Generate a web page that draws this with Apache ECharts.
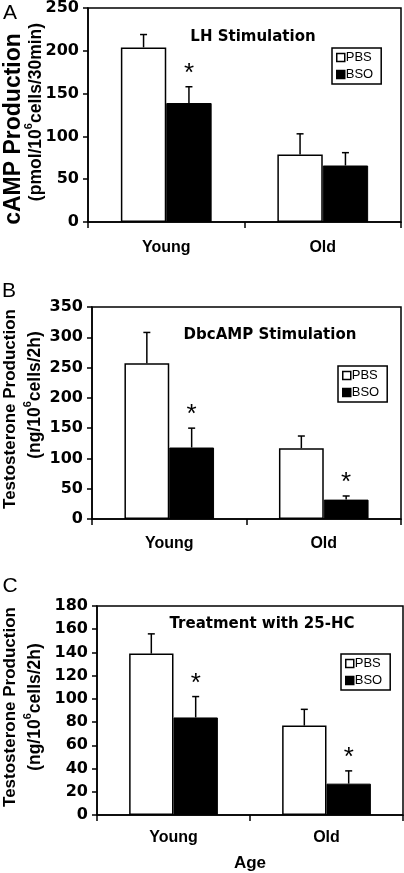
<!DOCTYPE html>
<html>
<head>
<meta charset="utf-8">
<script src="https://cdn.jsdelivr.net/npm/echarts@6/dist/echarts.min.js"></script>
<style>html,body{margin:0;padding:0;background:#fff}#c{width:404px;height:873px}</style>
</head>
<body>
<div id="c"></div>
<script>
// ---- data ----
const categories = ['Young', 'Old'];
const seriesNames = ['PBS', 'BSO'];
// Panel A: cAMP, LH stimulation
const aPBS = [204, 79];
const aPBSErr = [15, 24];
const aBSO = [139, 66];
const aBSOErr = [19, 15];
const aSig = [1, 0];
// Panel B: Testosterone, DbcAMP stimulation
const bPBS = [257, 117];
const bPBSErr = [51, 20];
const bBSO = [118, 32];
const bBSOErr = [32, 6];
const bSig = [1, 1];
// Panel C: Testosterone, 25-HC
const cPBS = [139, 77];
const cPBSErr = [17, 14];
const cBSO = [84, 27];
const cBSOErr = [18, 11];
const cSig = [1, 1];
// axes
const aAxis = {min: 0, max: 250, interval: 50};
const bAxis = {min: 0, max: 350, interval: 50};
const cAxis = {min: 0, max: 180, interval: 20};
const panelTitles = ['LH Stimulation', 'DbcAMP Stimulation', 'Treatment with 25-HC'];
const panelLetters = ['A', 'B', 'C'];
const xName = 'Age';

const BAR_FRAC = 0.29;
const chart = echarts.init(document.getElementById('c'), null, {renderer: 'canvas'});

const grids = [
  {left: 88, right: 3, top: 6, height: 216},
  {left: 92, right: 3, top: 307, height: 212},
  {left: 97, right: 1, top: 606, height: 210}
];
const axesCfg = [aAxis, bAxis, cAxis];
const labelMargins = [18, 17, 15];

function errRender(side) {
  return function (params, api) {
    const ci = api.value(0), v = api.value(1), e = api.value(2), sig = api.value(3);
    const base = api.coord([ci, v]);
    const top = api.coord([ci, v + e]);
    const catW = api.size([1, 0])[0];
    const bw = catW * BAR_FRAC;
    const x = base[0] + side * bw / 2;
    const children = [
      {type: 'line', shape: {x1: x, y1: base[1], x2: x, y2: top[1]}, style: {stroke: '#000', lineWidth: 1.5}},
      {type: 'line', shape: {x1: x - 3.5, y1: top[1], x2: x + 3.5, y2: top[1]}, style: {stroke: '#000', lineWidth: 1.5}}
    ];
    if (sig) {
      children.push({type: 'text', x: x, y: top[1] - 13,
        style: {text: '*', font: '26px "Liberation Sans"', fill: '#000', align: 'center', verticalAlign: 'middle', textAlign: 'center', textVerticalAlign: 'middle'}});
    }
    return {type: 'group', children: children};
  };
}

const panels = [
  [aPBS, aPBSErr, aBSO, aBSOErr, aSig],
  [bPBS, bPBSErr, bBSO, bBSOErr, bSig],
  [cPBS, cPBSErr, cBSO, cBSOErr, cSig]
];

const xAxes = [], yAxes = [], series = [];
panels.forEach((p, i) => {
  xAxes.push({
    type: 'category', gridIndex: i, data: categories,
    axisLine: {lineStyle: {color: '#000', width: 1.5}},
    axisTick: {show: true, length: 6, lineStyle: {color: '#000', width: 1.5}},
    axisLabel: {margin: labelMargins[i], color: '#000', fontFamily: 'Liberation Sans', fontWeight: 'bold', fontSize: 16},
    name: i === 2 ? xName : '', nameLocation: 'middle', nameGap: 40,
    nameTextStyle: {color: '#000', fontFamily: 'Liberation Sans', fontWeight: 'bold', fontSize: 17}
  });
  yAxes.push({
    type: 'value', gridIndex: i, min: axesCfg[i].min, max: axesCfg[i].max, interval: axesCfg[i].interval,
    axisLine: {show: true, lineStyle: {color: '#000', width: 1.5}},
    axisTick: {show: true, length: 5, lineStyle: {color: '#000', width: 1.5}},
    splitLine: {show: false},
    axisLabel: {margin: 9, color: '#000', fontFamily: 'DejaVu Sans', fontWeight: 'bold', fontSize: 16}
  });
  series.push({
    name: 'PBS', type: 'bar', xAxisIndex: i, yAxisIndex: i, data: p[0],
    barWidth: (BAR_FRAC * 100) + '%', barGap: '0%',
    itemStyle: {color: '#fff', borderColor: '#000', borderWidth: 1.5}
  });
  series.push({
    name: 'BSO', type: 'bar', xAxisIndex: i, yAxisIndex: i, data: p[2],
    barWidth: (BAR_FRAC * 100) + '%', barGap: '0%',
    itemStyle: {color: '#000', borderColor: '#000', borderWidth: 1}
  });
  series.push({
    name: 'errPBS' + i, type: 'custom', xAxisIndex: i, yAxisIndex: i, z: 5,
    renderItem: errRender(-1),
    encode: {x: 0, y: 1},
    data: categories.map((c, k) => [k, p[0][k], p[1][k], 0])
  });
  series.push({
    name: 'errBSO' + i, type: 'custom', xAxisIndex: i, yAxisIndex: i, z: 5,
    renderItem: errRender(1),
    encode: {x: 0, y: 1},
    data: categories.map((c, k) => [k, p[2][k], p[3][k], p[4][k]])
  });
});

const legendPos = [{left: 332, top: 48}, {left: 338, top: 366}, {left: 341, top: 654}];
const legends = legendPos.map(lp => ({
  left: lp.left, top: lp.top, orient: 'vertical', data: seriesNames, icon: 'rect',
  itemWidth: 8, itemHeight: 8, itemGap: 4, padding: [3, 8, 3, 4],
  borderColor: '#000', borderWidth: 1.5, selectedMode: false,
  itemStyle: {borderColor: '#000', borderWidth: 1.5},
  textStyle: {fontFamily: 'Liberation Sans', fontSize: 13, color: '#000', padding: [0, 0, 0, -4]}
}));

function txt(x, y, text, font, rotation, rich) {
  const style = {text: text, font: font, fill: '#000', align: 'center', verticalAlign: 'middle', textAlign: 'center', textVerticalAlign: 'middle'};
  if (rich) style.rich = rich;
  return {type: 'text', x: x, y: y, rotation: rotation || 0, style: style, z: 10};
}
const supRich = function (size) {
  return {
    b: {fontFamily: 'Liberation Sans', fontWeight: 'bold', fontSize: size, verticalAlign: 'bottom', lineHeight: size + 4},
    s: {fontFamily: 'Liberation Sans', fontWeight: 'bold', fontSize: Math.round(size * 0.62), verticalAlign: 'top', lineHeight: size + 4}
  };
};
const R = Math.PI / 2;
const graphics = [
  // panel letters
  txt(10, 13, panelLetters[0], '21px "Liberation Sans"'),
  txt(9, 291, panelLetters[1], '21px "Liberation Sans"'),
  txt(10, 586, panelLetters[2], '21px "Liberation Sans"'),
  // panel titles
  txt(253, 37, panelTitles[0], 'bold 15px "DejaVu Sans"'),
  txt(270, 335, panelTitles[1], 'bold 15px "DejaVu Sans"'),
  txt(262, 624, panelTitles[2], 'bold 15px "DejaVu Sans"'),
  // y axis titles
  txt(14, 129, 'cAMP Production', 'bold 23px "Liberation Sans"', R),
  txt(34, 112, '{b|(pmol/10}{s|6}{b|cells/30min)}', '', R, supRich(17.5)),
  txt(10, 409, 'Testosterone Production', 'bold 17px "Liberation Sans"', R),
  txt(33, 395, '{b|(ng/10}{s|6}{b|cells/2h)}', '', R, supRich(17.5)),
  txt(10, 707, 'Testosterone Production', 'bold 17px "Liberation Sans"', R),
  txt(33, 707, '{b|(ng/10}{s|6}{b|cells/2h)}', '', R, supRich(17.5))
];

chart.setOption({
  animation: false,
  backgroundColor: '#fff',
  grid: grids.map(g => Object.assign({show: true, borderColor: '#000', borderWidth: 1.5, backgroundColor: 'transparent'}, g)),
  xAxis: xAxes,
  yAxis: yAxes,
  legend: legends,
  series: series,
  graphic: graphics
});
</script>
</body>
</html>
